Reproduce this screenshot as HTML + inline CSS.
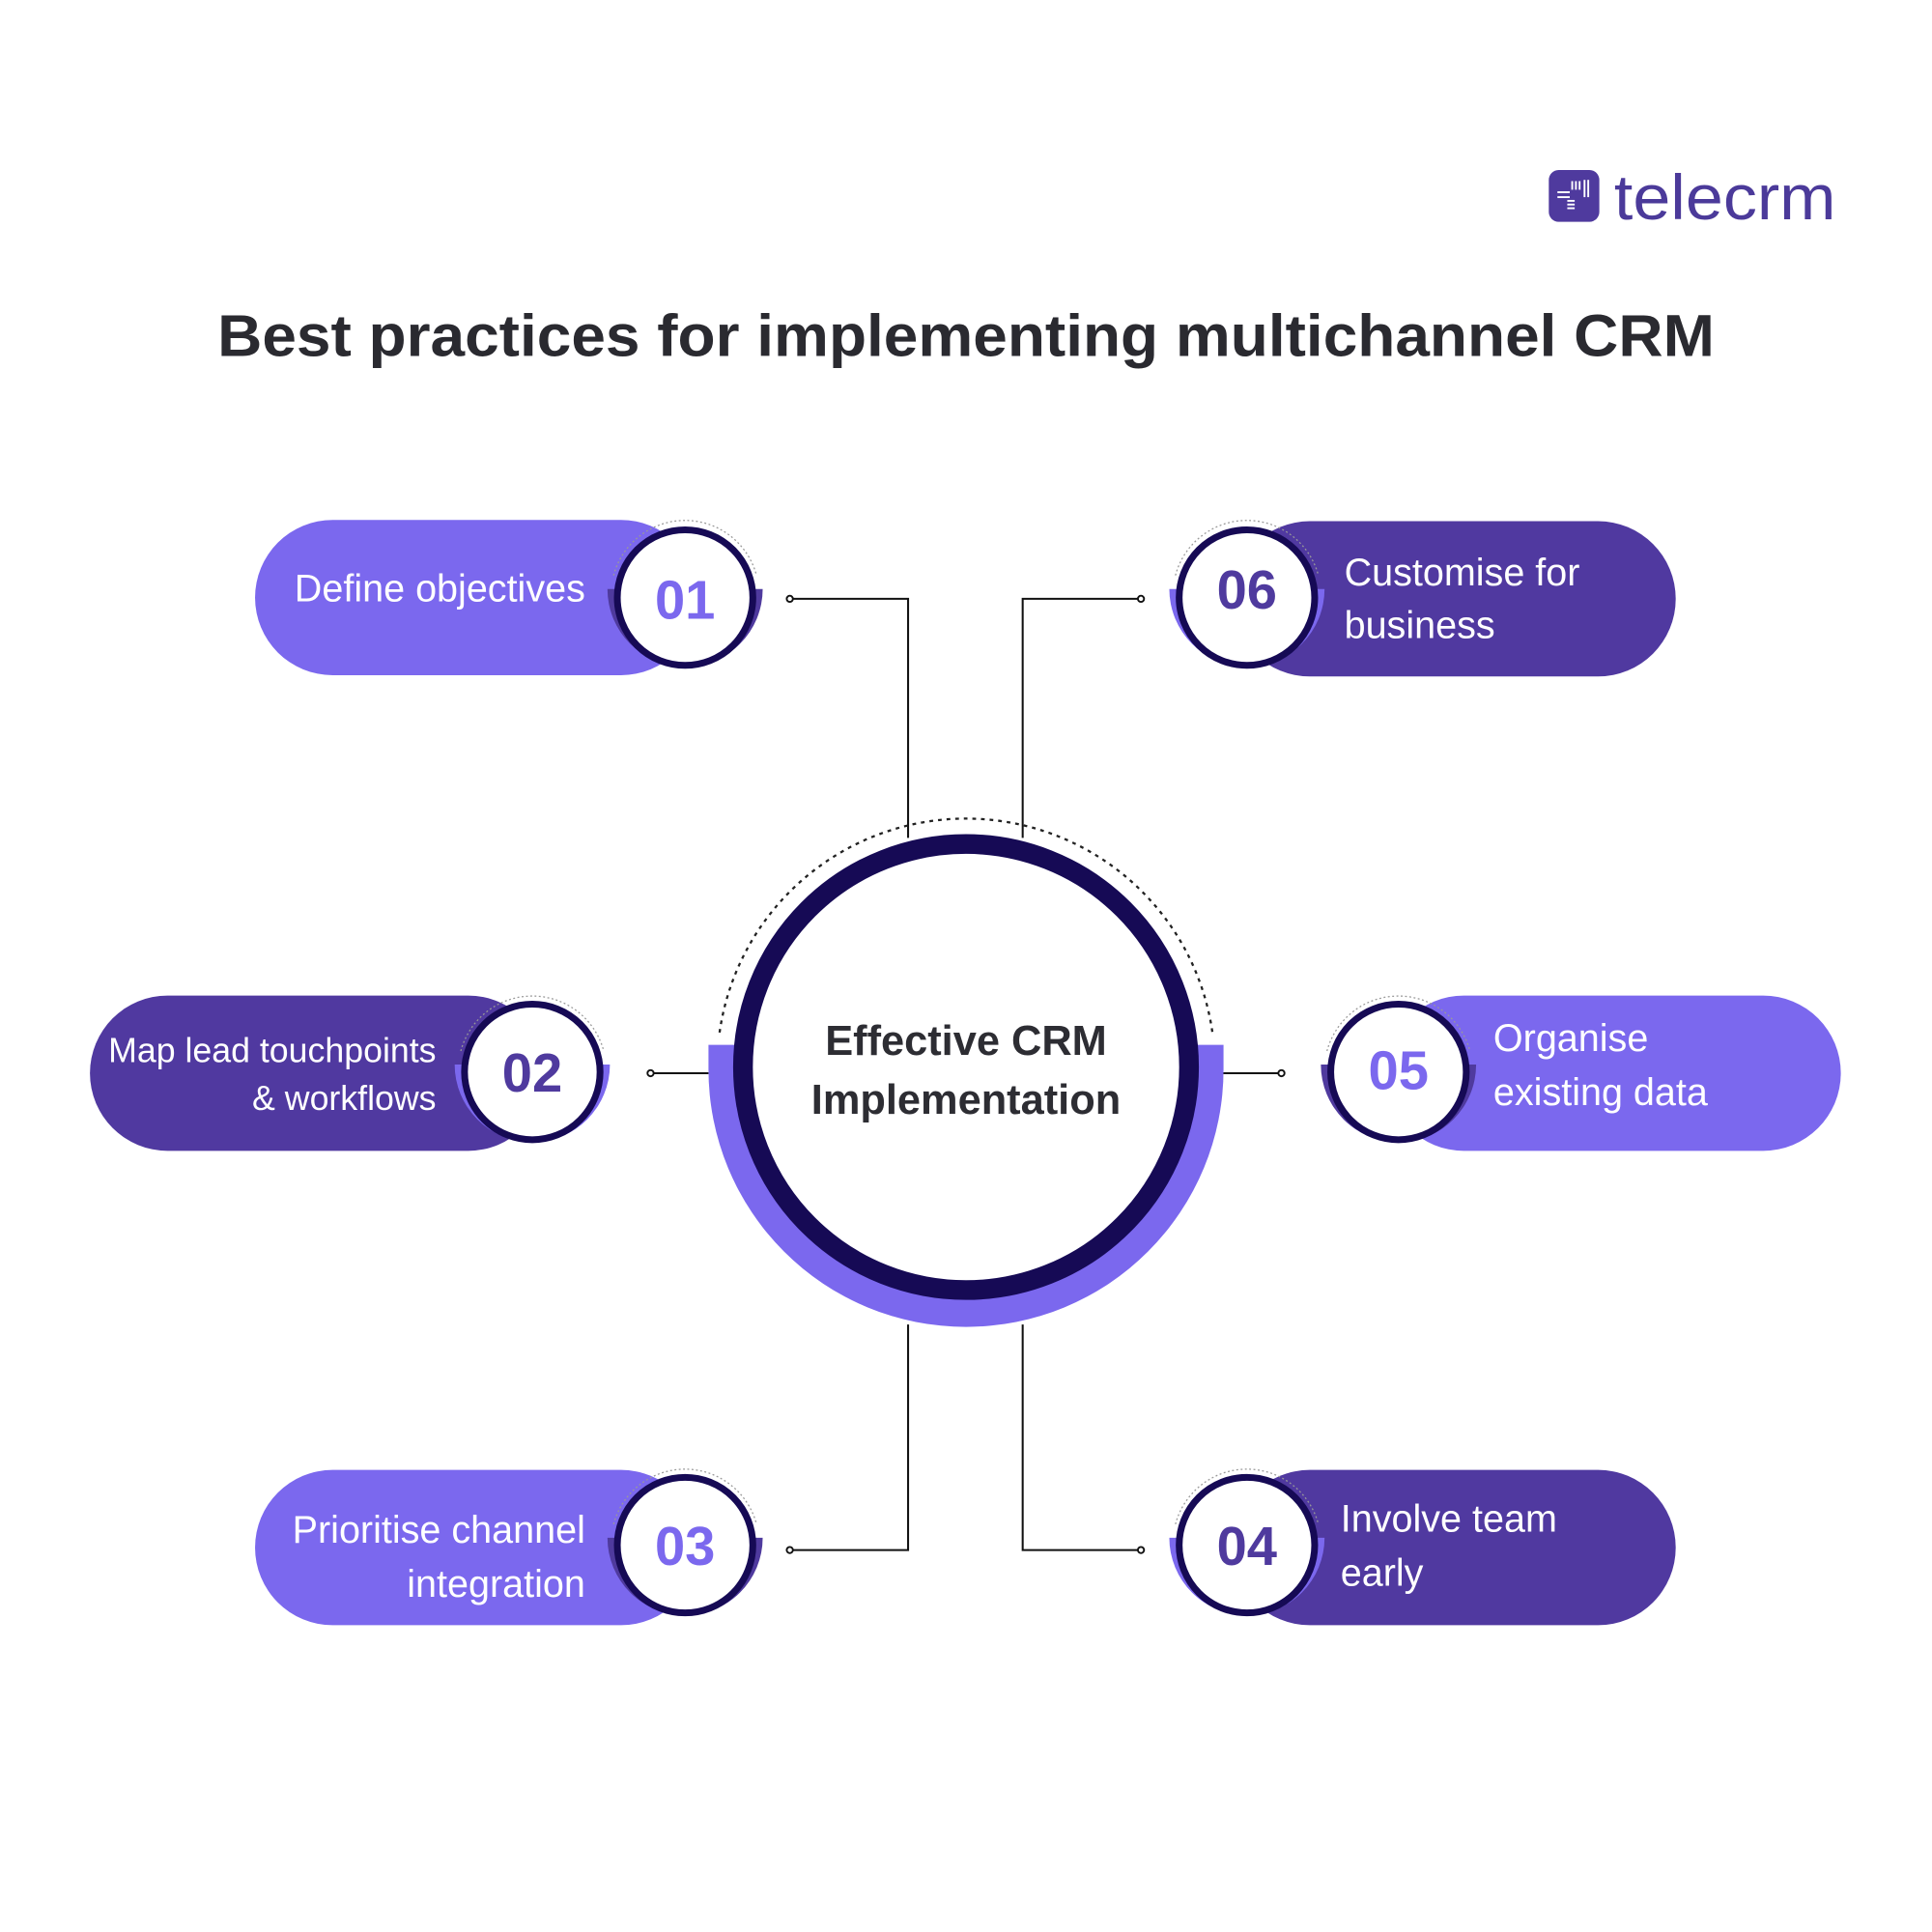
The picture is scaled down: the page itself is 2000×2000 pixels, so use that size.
<!DOCTYPE html>
<html><head><meta charset="utf-8"><style>
html,body{margin:0;padding:0;background:#fff;}
svg{display:block}
text{font-family:"Liberation Sans",Arial,sans-serif}
</style></head><body>
<svg width="2000" height="2000" viewBox="0 0 1568 1568" xmlns="http://www.w3.org/2000/svg">
<rect width="1568" height="1568" fill="#fff"/>
<!-- logo -->
<rect x="1257" y="138" width="41" height="42" rx="8" fill="#4f3a9e"/>
<g stroke="#fff" stroke-width="1.5">
<line x1="1264" y1="156" x2="1274" y2="156"/><line x1="1264" y1="160" x2="1274" y2="160"/>
<line x1="1272" y1="163" x2="1278" y2="163"/><line x1="1272" y1="166" x2="1278" y2="166"/><line x1="1272" y1="169" x2="1278" y2="169"/>
<line x1="1276" y1="147" x2="1276" y2="154"/><line x1="1279" y1="147" x2="1279" y2="154"/><line x1="1282" y1="147" x2="1282" y2="154"/>
<line x1="1286" y1="146" x2="1286" y2="160"/><line x1="1289" y1="146" x2="1289" y2="160"/>
</g>
<text x="1310" y="178" font-size="52" fill="#4b3a9a" textLength="180" lengthAdjust="spacingAndGlyphs">telecrm</text>
<!-- title -->
<text x="784" y="289" font-size="48" font-weight="bold" fill="#2a2a30" text-anchor="middle" textLength="1215" lengthAdjust="spacingAndGlyphs">Best practices for implementing multichannel CRM</text>

<!-- connectors -->
<g stroke="#111" stroke-width="1.6" fill="none">
<polyline points="737,680 737,486 641,486"/>
<polyline points="830,680 830,486 926,486"/>
<polyline points="737,1075 737,1258 641,1258"/>
<polyline points="830,1075 830,1258 926,1258"/>
<line x1="575" y1="871" x2="528" y2="871"/>
<line x1="992" y1="871" x2="1040" y2="871"/>
</g>
<g stroke="#111" stroke-width="1.5" fill="#fff">
<circle cx="641" cy="486" r="2.5"/><circle cx="926" cy="486" r="2.5"/>
<circle cx="641" cy="1258" r="2.5"/><circle cx="926" cy="1258" r="2.5"/>
<circle cx="528" cy="871" r="2.5"/><circle cx="1040" cy="871" r="2.5"/>
</g>

<!-- center -->
<path d="M575,848 L575,868 A209,209 0 0 0 993,868 L993,848 Z" fill="#7b68ee"/>
<path d="M584,838 A202,202 0 0 1 984,838" fill="none" stroke="#222" stroke-width="1.8" stroke-dasharray="3,4"/>
<circle cx="784" cy="866" r="181" fill="#fff" stroke="#160a55" stroke-width="16"/>
<text x="784" y="856" font-size="34" font-weight="bold" fill="#2d2d33" text-anchor="middle">Effective CRM</text>
<text x="784" y="904" font-size="34" font-weight="bold" fill="#2d2d33" text-anchor="middle">Implementation</text>

<!-- pills -->
<rect x="207" y="422" width="360" height="126" rx="63" fill="#7b68ee"/>
<rect x="73" y="808" width="370" height="126" rx="63" fill="#5039a0"/>
<rect x="207" y="1193" width="360" height="126" rx="63" fill="#7b68ee"/>
<rect x="1000" y="1193" width="360" height="126" rx="63" fill="#5039a0"/>
<rect x="1125" y="808" width="369" height="126" rx="63" fill="#7b68ee"/>
<rect x="1000" y="423" width="360" height="126" rx="63" fill="#5039a0"/>

<!-- number badges -->
<g>
<path d="M493,478 A63,63 0 0 0 619,478 Z" fill="#4f3a9e"/>
<path d="M498,467 A60,60 0 0 1 614,467" fill="none" stroke="#999" stroke-width="1" stroke-dasharray="1.5,2"/>
<circle cx="556" cy="485" r="55" fill="#fff" stroke="#160a55" stroke-width="5.5"/>
<text x="556" y="502" font-size="44" font-weight="bold" fill="#7b68ee" text-anchor="middle">01</text>
</g>
<g>
<path d="M369,864 A63,63 0 0 0 495,864 Z" fill="#7b68ee"/>
<path d="M374,853 A60,60 0 0 1 490,853" fill="none" stroke="#999" stroke-width="1" stroke-dasharray="1.5,2"/>
<circle cx="432" cy="870" r="55" fill="#fff" stroke="#160a55" stroke-width="5.5"/>
<text x="432" y="886" font-size="44" font-weight="bold" fill="#4f3a9e" text-anchor="middle">02</text>
</g>
<g>
<path d="M493,1248 A63,63 0 0 0 619,1248 Z" fill="#4f3a9e"/>
<path d="M498,1237 A60,60 0 0 1 614,1237" fill="none" stroke="#999" stroke-width="1" stroke-dasharray="1.5,2"/>
<circle cx="556" cy="1254" r="55" fill="#fff" stroke="#160a55" stroke-width="5.5"/>
<text x="556" y="1270" font-size="44" font-weight="bold" fill="#7b68ee" text-anchor="middle">03</text>
</g>
<g>
<path d="M949,1248 A63,63 0 0 0 1075,1248 Z" fill="#7b68ee"/>
<path d="M954,1237 A60,60 0 0 1 1070,1237" fill="none" stroke="#999" stroke-width="1" stroke-dasharray="1.5,2"/>
<circle cx="1012" cy="1254" r="55" fill="#fff" stroke="#160a55" stroke-width="5.5"/>
<text x="1012" y="1270" font-size="44" font-weight="bold" fill="#4f3a9e" text-anchor="middle">04</text>
</g>
<g>
<path d="M1072,864 A63,63 0 0 0 1198,864 Z" fill="#4f3a9e"/>
<path d="M1077,853 A60,60 0 0 1 1193,853" fill="none" stroke="#999" stroke-width="1" stroke-dasharray="1.5,2"/>
<circle cx="1135" cy="870" r="55" fill="#fff" stroke="#160a55" stroke-width="5.5"/>
<text x="1135" y="884" font-size="44" font-weight="bold" fill="#7b68ee" text-anchor="middle">05</text>
</g>
<g>
<path d="M949,478 A63,63 0 0 0 1075,478 Z" fill="#7b68ee"/>
<path d="M954,467 A60,60 0 0 1 1070,467" fill="none" stroke="#999" stroke-width="1" stroke-dasharray="1.5,2"/>
<circle cx="1012" cy="485" r="55" fill="#fff" stroke="#160a55" stroke-width="5.5"/>
<text x="1012" y="494" font-size="44" font-weight="bold" fill="#4f3a9e" text-anchor="middle">06</text>
</g>

<!-- labels -->
<g fill="#fff" font-size="31">
<text x="475" y="488" text-anchor="end">Define objectives</text>
<text x="354" y="862" text-anchor="end" font-size="28">Map lead touchpoints</text>
<text x="354" y="901" text-anchor="end" font-size="28">&amp; workflows</text>
<text x="475" y="1252" text-anchor="end">Prioritise channel</text>
<text x="475" y="1296" text-anchor="end">integration</text>
<text x="1088" y="1243">Involve team</text>
<text x="1088" y="1287">early</text>
<text x="1212" y="853">Organise</text>
<text x="1212" y="897">existing data</text>
<text x="1091" y="475">Customise for</text>
<text x="1091" y="518">business</text>
</g>
</svg>
</body></html>
